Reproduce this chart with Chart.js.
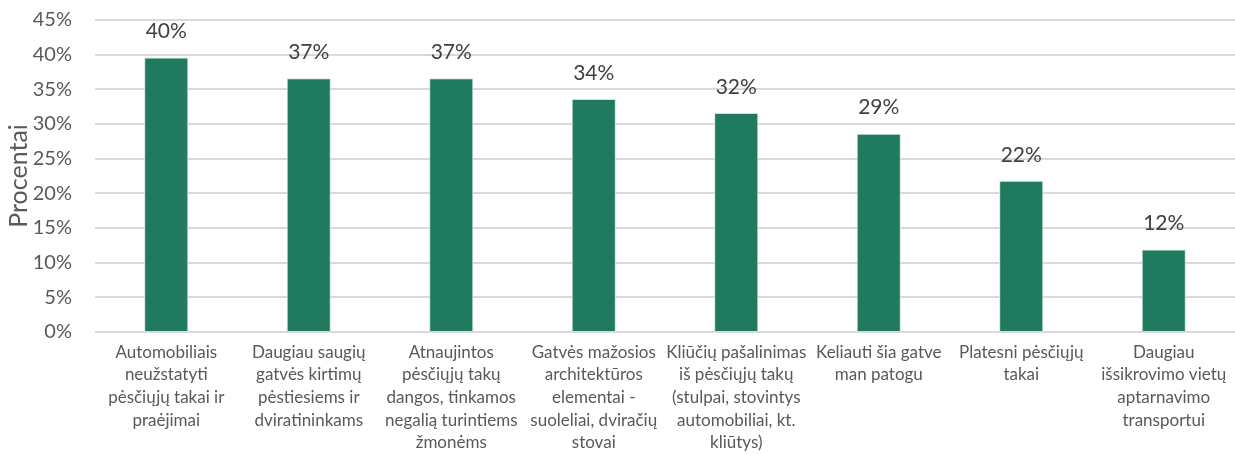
<!DOCTYPE html>
<html>
<head>
<meta charset="utf-8">
<script src="https://cdn.jsdelivr.net/npm/chart.js@4"></script>
<style>
  html, body { margin: 0; padding: 0; background: #fff; }
  .grafica { width: 1235px; height: 454px; position: relative; }
</style>
</head>
<body>
<div class="grafica"><canvas id="graf"></canvas></div>
<script>
const kategorijos = [
  ['Automobiliais', 'neužstatyti', 'pėsčiųjų takai ir', 'praėjimai'],
  ['Daugiau saugių', 'gatvės kirtimų', 'pėstiesiems ir', 'dviratininkams'],
  ['Atnaujintos', 'pėsčiųjų takų', 'dangos, tinkamos', 'negalią turintiems', 'žmonėms'],
  ['Gatvės mažosios', 'architektūros', 'elementai -', 'suoleliai, dviračių', 'stovai'],
  ['Kliūčių pašalinimas', 'iš pėsčiųjų takų', '(stulpai, stovintys', 'automobiliai, kt.', 'kliūtys)'],
  ['Keliauti šia gatve', 'man patogu'],
  ['Platesni pėsčiųjų', 'takai'],
  ['Daugiau', 'išsikrovimo vietų', 'aptarnavimo', 'transportui']
];
const procentai = [39.6, 36.6, 36.6, 33.6, 31.6, 28.6, 21.8, 11.9];
const ySkale = { min: 0, max: 45, step: 5 };

const sriftas = 'Lato, "Liberation Sans", sans-serif';

// reikšmės virš stulpelių
const reiksmes = {
  id: 'reiksmes',
  afterDatasetsDraw(chart) {
    const ctx = chart.ctx;
    const meta = chart.getDatasetMeta(0);
    ctx.save();
    ctx.font = '21px ' + sriftas;
    ctx.fillStyle = '#404040';
    ctx.textAlign = 'center';
    ctx.textBaseline = 'middle';
    meta.data.forEach((bar, i) => {
      ctx.fillText(Math.round(procentai[i]) + '%', bar.x, bar.y - 26);
    });
    ctx.restore();
  }
};

new Chart(document.getElementById('graf'), {
  type: 'bar',
  data: {
    labels: kategorijos,
    datasets: [{
      data: procentai,
      backgroundColor: '#1f7a60',
      borderColor: '#cfe3dc',
      borderWidth: 1,
      categoryPercentage: 1,
      barPercentage: 0.31
    }]
  },
  options: {
    responsive: true,
    maintainAspectRatio: false,
    animation: false,
    layout: { padding: { top: 0, right: 0, left: 0, bottom: -1 } },
    plugins: { legend: { display: false }, tooltip: { enabled: false } },
    scales: {
      x: {
        grid: { display: false },
        border: { display: false },
        ticks: {
          maxRotation: 0,
          autoSkip: false,
          padding: 1,
          color: '#595959',
          font: { family: sriftas, size: 17, lineHeight: 1.33 }
        }
      },
      y: {
        min: ySkale.min,
        max: ySkale.max,
        afterFit(scale) {
          scale.width = 95;
          scale.paddingTop = 20;
          scale.paddingBottom = 0;
        },
        grid: { color: '#d9d9d9', lineWidth: 2, drawTicks: false },
        border: { display: false },
        ticks: {
          stepSize: ySkale.step,
          padding: 23,
          color: '#595959',
          font: { family: sriftas, size: 20 },
          callback: v => v + '%'
        },
        title: {
          display: true,
          text: 'Procentai',
          color: '#595959',
          padding: { top: 4, bottom: 0 },
          font: { family: sriftas, size: 25 }
        }
      }
    }
  },
  plugins: [reiksmes]
});
</script>
</body>
</html>
